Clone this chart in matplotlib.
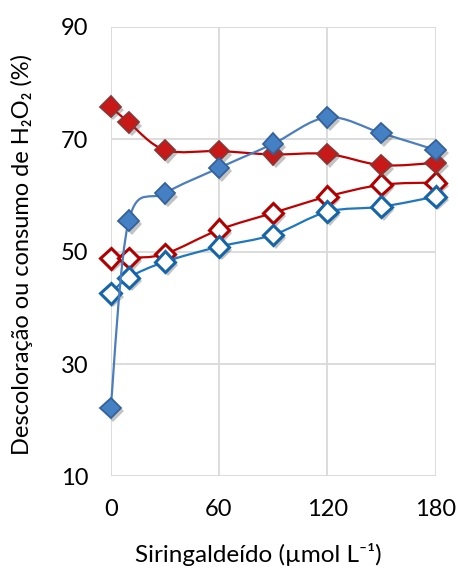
import numpy as np
import matplotlib
matplotlib.use("Agg")
import matplotlib.pyplot as plt
from matplotlib.path import Path
from matplotlib.patches import PathPatch
import matplotlib.patheffects as pe

plt.rcParams['font.family'] = ['Lato', 'DejaVu Sans']

x = [0, 10, 30, 60, 90, 120, 150, 180]
red_filled = [75.8, 73.0, 68.1, 67.9, 67.3, 67.4, 65.4, 65.8]
blue_filled = [22.2, 55.5, 60.4, 64.9, 69.2, 73.9, 71.1, 68.1]
red_open = [48.8, 48.9, 49.6, 53.9, 56.9, 59.8, 61.9, 62.3]
blue_open = [42.6, 45.4, 48.2, 50.9, 53.0, 57.1, 58.0, 59.8]

xticks = [0, 60, 120, 180]
yticks = [10, 30, 50, 70, 90]

fig = plt.figure(figsize=(4.58, 5.72), dpi=100)
ax = fig.add_axes([0.2417, 0.167, 0.7092, 0.786])
ax.set_xlim(0, 180)
ax.set_ylim(10, 90)
ax.set_xticks(xticks)
ax.set_yticks(yticks)
ax.grid(True, color='#D9D9D9', linewidth=1.3)
ax.set_axisbelow(True)
for s in ax.spines.values():
    s.set_visible(False)
ax.tick_params(axis='y', length=0, labelsize=17, pad=16, colors='black')
ax.tick_params(axis='x', length=0, labelsize=17, pad=16, colors='black')


def smooth_path(xs, ys):
    pts = np.column_stack([xs, ys]).astype(float)
    n = len(pts)
    verts = [pts[0]]
    codes = [Path.MOVETO]
    for i in range(n - 1):
        p0 = pts[i - 1] if i > 0 else pts[i]
        p1 = pts[i]
        p2 = pts[i + 1]
        p3 = pts[i + 2] if i + 2 < n else pts[i + 1]
        c1 = p1 + (p2 - p0) / 6.0
        c2 = p2 - (p3 - p1) / 6.0
        verts += [c1, c2, p2]
        codes += [Path.CURVE4] * 3
    return Path(verts, codes)


shadow = [pe.SimplePatchShadow(offset=(2, -2.5), alpha=0.35, shadow_rgbFace='#555555'), pe.Normal()]

series = [
    (red_open, '#C00000', 'white', '#B00000', 2.2),
    (blue_open, '#1F77BF', 'white', '#1565A8', 2.2),
    (red_filled, '#C00000', '#C81818', '#8E3434', 1.3),
    (blue_filled, '#4A7EBF', '#4680C4', '#33629A', 1.3),
]

z = 3
for ys, lc, fc, ec, mew in series:
    patch = PathPatch(smooth_path(x, ys), facecolor='none', edgecolor=lc, linewidth=1.6, zorder=z, clip_on=False)
    ax.add_patch(patch)
    ax.plot(x, ys, linestyle='none', marker='D', markersize=10.5, markerfacecolor=fc,
            markeredgecolor=ec, markeredgewidth=mew, zorder=z + 0.5, clip_on=False,
            path_effects=shadow)
    z += 1

fig.text(0.565, 0.03, 'Siringaldeído (µmol L⁻¹)', ha='center', va='center', fontsize=17.5)
fig.text(0.047, 0.555, 'Descoloração ou consumo de H₂O₂ (%)', ha='center', va='center',
         rotation=90, fontsize=17)

fig.savefig('out.png', dpi=100)
